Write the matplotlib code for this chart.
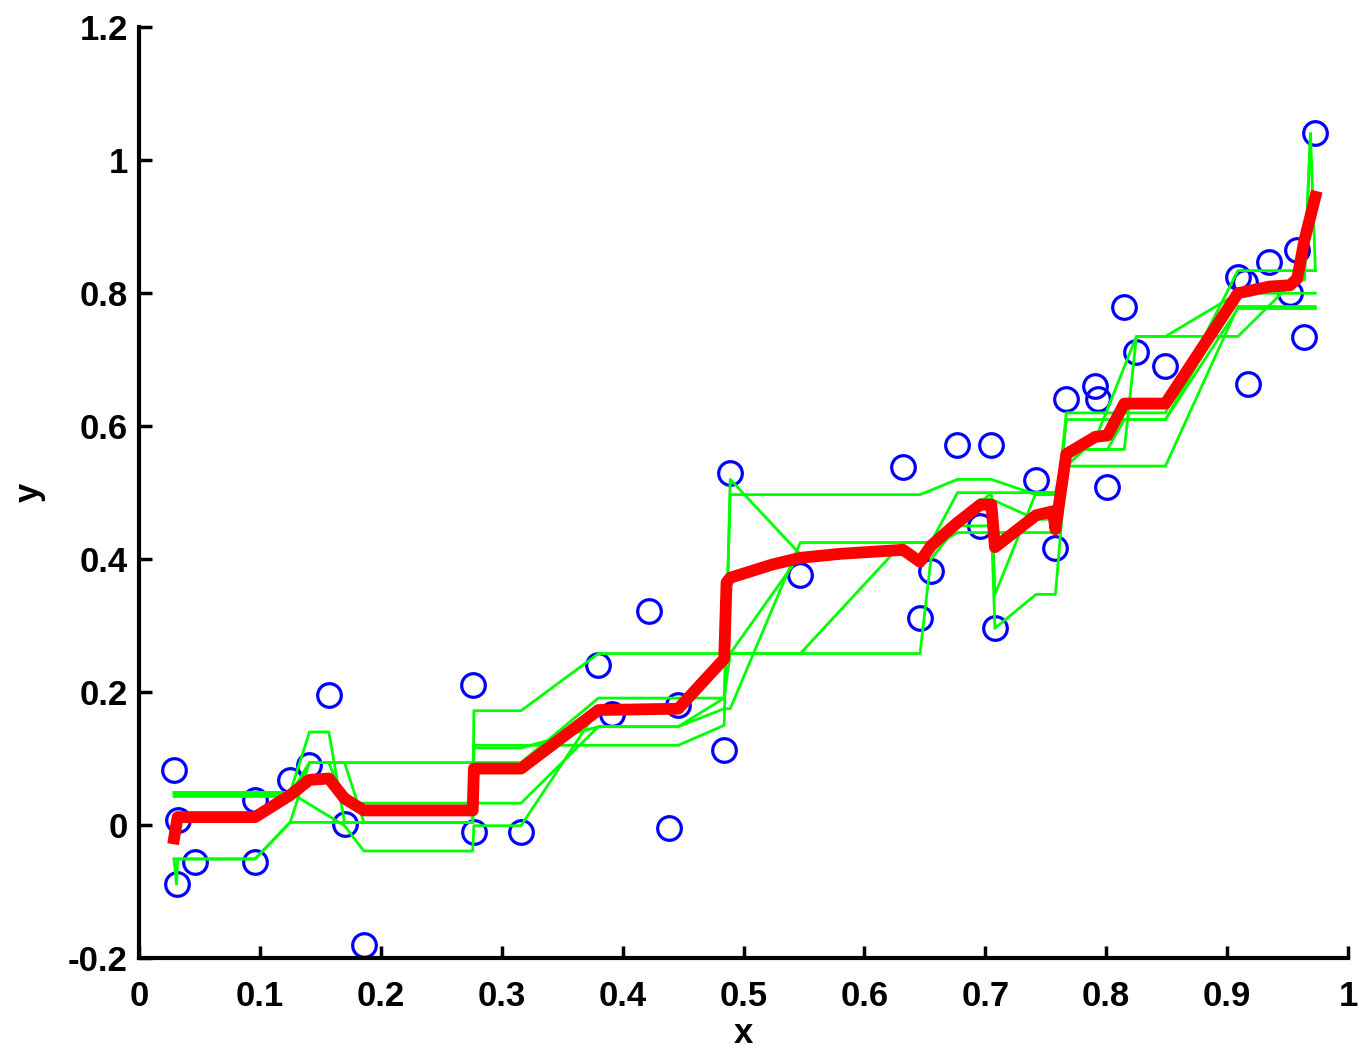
"""
Bagged regression trees: noisy samples, individual tree fits and their average.
"""
import matplotlib
matplotlib.use("Agg")
import matplotlib.pyplot as plt

# observed samples
x_data = [0.029, 0.031, 0.032, 0.046, 0.096, 0.096, 0.125, 0.141, 0.157, 0.170,
          0.186, 0.276, 0.277, 0.316, 0.380, 0.391, 0.422, 0.438, 0.446, 0.484,
          0.489, 0.547, 0.632, 0.646, 0.655, 0.677, 0.696, 0.705, 0.708, 0.742,
          0.758, 0.767, 0.791, 0.793, 0.801, 0.815, 0.825, 0.849, 0.909, 0.915,
          0.917, 0.935, 0.952, 0.958, 0.964, 0.973]
y_data = [0.083, -0.089, 0.008, -0.056, 0.038, -0.056, 0.068, 0.090, 0.195, 0.002,
          -0.180, 0.211, -0.011, -0.011, 0.241, 0.167, 0.322, -0.005, 0.180, 0.113,
          0.529, 0.376, 0.538, 0.311, 0.382, 0.571, 0.450, 0.571, 0.296, 0.519,
          0.417, 0.641, 0.660, 0.641, 0.508, 0.779, 0.711, 0.690, 0.824, 0.817,
          0.663, 0.847, 0.801, 0.865, 0.734, 1.041]

# individual tree predictions (vertices)
t1_x = [0.029, 0.032, 0.125, 0.141, 0.157, 0.170, 0.276, 0.277, 0.316, 0.380,
        0.646, 0.655, 0.677, 0.705, 0.708, 0.742, 0.758, 0.767, 0.849, 0.909, 0.973]
t1_y = [0.049, 0.049, 0.049, 0.140, 0.140, 0.004, 0.004, 0.172, 0.172, 0.258,
        0.258, 0.400, 0.450, 0.450, 0.296, 0.347, 0.347, 0.540, 0.540, 0.780, 0.780]

t2_x = [0.029, 0.031, 0.032, 0.096, 0.125, 0.276, 0.277, 0.446, 0.484, 0.489,
        0.547, 0.632, 0.646, 0.677, 0.742, 0.758, 0.767, 0.849, 0.909, 0.973]
t2_y = [-0.051, -0.089, -0.051, -0.051, 0.004, 0.004, 0.120, 0.120, 0.150, 0.520,
        0.407, 0.407, 0.407, 0.440, 0.440, 0.440, 0.610, 0.610, 0.800, 0.800]

t3_x = [0.029, 0.032, 0.125, 0.141, 0.276, 0.277, 0.316, 0.380, 0.484, 0.489,
        0.632, 0.646, 0.677, 0.705, 0.742, 0.758, 0.767, 0.815, 0.825, 0.909,
        0.964, 0.969]
t3_y = [0.046, 0.046, 0.046, 0.094, 0.094, 0.094, 0.094, 0.191, 0.191, 0.497,
        0.497, 0.497, 0.520, 0.520, 0.497, 0.497, 0.565, 0.565, 0.735, 0.735,
        0.834, 1.040]

t4_x = [0.029, 0.032, 0.125, 0.141, 0.157, 0.170, 0.276, 0.277, 0.316, 0.380,
        0.446, 0.484, 0.489, 0.547, 0.646, 0.655, 0.696, 0.705, 0.742, 0.758,
        0.767, 0.815, 0.849, 0.909, 0.973]
t4_y = [0.043, 0.043, 0.043, 0.094, 0.094, 0.033, 0.033, 0.033, 0.033, 0.148,
        0.148, 0.175, 0.175, 0.425, 0.425, 0.425, 0.490, 0.490, 0.460, 0.460,
        0.620, 0.620, 0.620, 0.834, 0.834]

t5_x = [0.029, 0.032, 0.096, 0.125, 0.170, 0.186, 0.276, 0.277, 0.316, 0.380,
        0.446, 0.484, 0.489, 0.547, 0.632, 0.646, 0.705, 0.708, 0.742, 0.758,
        0.767, 0.791, 0.825, 0.849, 0.909, 0.964, 0.969, 0.973]
t5_y = [0.049, 0.049, 0.049, 0.049, -0.001, -0.039, -0.039, -0.001, -0.001, 0.175,
        0.175, 0.258, 0.258, 0.407, 0.407, 0.400, 0.500, 0.347, 0.500, 0.500,
        0.540, 0.580, 0.735, 0.735, 0.800, 0.820, 1.040, 0.834]

t6_x = [0.029, 0.032, 0.096, 0.125, 0.141, 0.170, 0.186, 0.276, 0.277, 0.316,
        0.380, 0.446, 0.484, 0.489, 0.547, 0.632, 0.655, 0.677, 0.705, 0.742,
        0.758, 0.767, 0.801, 0.815, 0.849, 0.909, 0.952, 0.973]
t6_y = [-0.051, -0.051, -0.051, 0.004, 0.094, 0.094, 0.004, 0.004, 0.116, 0.116,
        0.148, 0.148, 0.191, 0.258, 0.258, 0.425, 0.425, 0.500, 0.500, 0.500,
        0.500, 0.565, 0.565, 0.610, 0.610, 0.777, 0.777, 0.777]

trees = [(t1_x, t1_y), (t2_x, t2_y), (t3_x, t3_y),
         (t4_x, t4_y), (t5_x, t5_y), (t6_x, t6_y)]

# bagged (averaged) prediction
avg_x = [0.029, 0.031, 0.032, 0.096, 0.125, 0.141, 0.157, 0.170, 0.186, 0.276,
         0.277, 0.316, 0.380, 0.446, 0.484, 0.486, 0.489, 0.524, 0.547, 0.580,
         0.632, 0.646, 0.655, 0.677, 0.696, 0.705, 0.708, 0.742, 0.756, 0.758,
         0.767, 0.791, 0.801, 0.815, 0.849, 0.909, 0.935, 0.952, 0.958, 0.964,
         0.973]
avg_y = [-0.020, 0.002, 0.012, 0.012, 0.045, 0.068, 0.070, 0.040, 0.022, 0.022,
         0.085, 0.085, 0.173, 0.175, 0.250, 0.365, 0.372, 0.392, 0.402, 0.408,
         0.414, 0.396, 0.420, 0.455, 0.482, 0.482, 0.418, 0.466, 0.472, 0.445,
         0.558, 0.584, 0.586, 0.634, 0.634, 0.800, 0.810, 0.812, 0.822, 0.880,
         0.945]

x_ticks = [0, 0.1, 0.2, 0.3, 0.4, 0.5, 0.6, 0.7, 0.8, 0.9, 1]
x_tick_labels = ["0", "0.1", "0.2", "0.3", "0.4", "0.5", "0.6", "0.7", "0.8", "0.9", "1"]
y_ticks = [-0.2, 0, 0.2, 0.4, 0.6, 0.8, 1, 1.2]
y_tick_labels = ["-0.2", "0", "0.2", "0.4", "0.6", "0.8", "1", "1.2"]

plt.rcParams["font.family"] = ["Liberation Sans", "DejaVu Sans"]
plt.rcParams["font.weight"] = "bold"

fig = plt.figure(figsize=(13.59, 10.5), dpi=100)
ax = fig.add_axes([0.1023, 0.0876, 0.8896, 0.8864])

ax.plot(x_data, y_data, "o", color="#0000ff", markersize=17,
        markerfacecolor="none", markeredgewidth=2.3)
for tx, ty in trees:
    ax.plot(tx, ty, "-", color="#00ff00", linewidth=2.0)
ax.plot(avg_x, avg_y, "-", color="#ff0000", linewidth=8.5)

ax.set_xlim(0, 1)
ax.set_ylim(-0.2, 1.2)
ax.set_xticks(x_ticks)
ax.set_xticklabels(x_tick_labels)
ax.set_yticks(y_ticks)
ax.set_yticklabels(y_tick_labels)
ax.tick_params(direction="in", length=9, width=2.5, labelsize=25)
ax.tick_params(axis="x", pad=16)
ax.tick_params(axis="y", pad=8)
ax.spines["top"].set_visible(False)
ax.spines["right"].set_visible(False)
ax.spines["left"].set_linewidth(3)
ax.spines["bottom"].set_linewidth(3)
ax.set_xlabel("x", fontsize=25, fontweight="bold", labelpad=3)
ax.set_ylabel("y", fontsize=25, fontweight="bold", labelpad=16)

fig.savefig("out.png", dpi=100)
